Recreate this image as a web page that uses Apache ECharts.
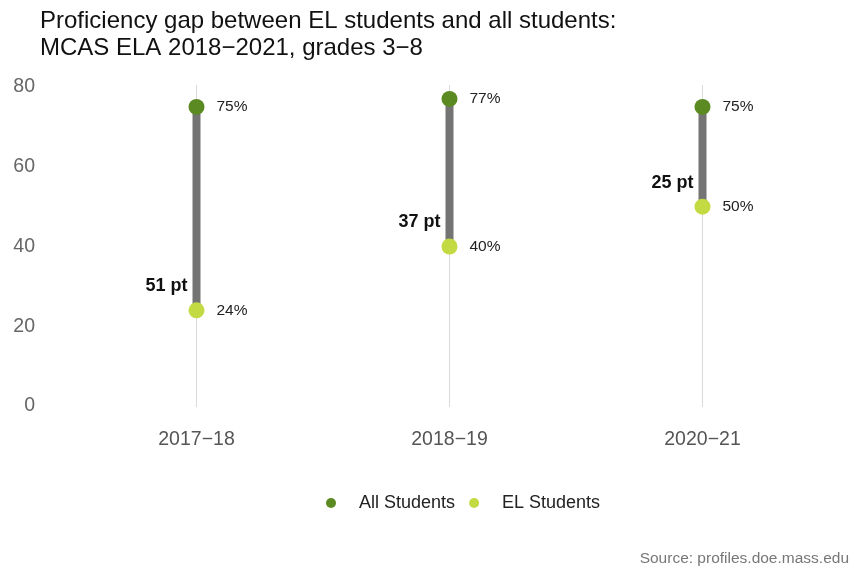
<!DOCTYPE html>
<html>
<head>
<meta charset="utf-8">
<script src="https://cdn.jsdelivr.net/npm/echarts@6/dist/echarts.min.js"></script>
<style>
  html, body { margin: 0; padding: 0; background: #fff; }
  #chart { width: 854px; height: 567px; }
</style>
</head>
<body>
<div id="chart"></div>
<script>
// School years and proficiency rates (percent meeting/exceeding expectations)
const categories = ['2017−18', '2018−19', '2020−21'];
const allStudents = [75, 77, 75];
const elStudents = [24, 40, 50];
const yTicks = [0, 20, 40, 60, 80];

const DARK_GREEN = '#5b8a22';
const LIGHT_GREEN = '#c3da43';
const FONT = '"Liberation Sans", Arial, sans-serif';

const chart = echarts.init(document.getElementById('chart'));

const gapData = categories.map((c, i) => [i, allStudents[i], elStudents[i]]);
const guideData = categories.map((c, i) => [i, yTicks[0], yTicks[yTicks.length - 1]]);

chart.setOption({
  animation: false,
  textStyle: { fontFamily: FONT },
  title: [
    {
      text: 'Proficiency gap between EL students and all students:\nMCAS ELA 2018−2021, grades 3−8',
      left: 35, top: 3,
      textStyle: { fontSize: 24, fontWeight: 'normal', color: '#111', lineHeight: 27, fontFamily: FONT }
    },
    {
      text: 'Source: profiles.doe.mass.edu',
      right: 0, top: 546,
      textStyle: { fontSize: 15.5, fontWeight: 'normal', color: '#777', fontFamily: FONT }
    }
  ],
  legend: {
    data: ['All Students', 'EL Students'],
    top: 489,
    left: 321,
    icon: 'circle',
    itemWidth: 10, itemHeight: 10,
    itemGap: 14,
    textStyle: { fontSize: 18, color: '#222', padding: [0, 0, 0, 18], fontFamily: FONT }
  },
  grid: { left: 70, right: 25, top: 87, bottom: 161 },
  xAxis: {
    type: 'category',
    data: categories,
    boundaryGap: true,
    axisLine: { show: false },
    axisTick: { show: false },
    splitLine: { show: false },
    axisLabel: { fontSize: 19.5, color: '#555', margin: 24, fontFamily: FONT }
  },
  yAxis: {
    type: 'value',
    min: 0, max: 80, interval: 20,
    axisLine: { show: false },
    axisTick: { show: false },
    splitLine: { show: false },
    axisLabel: { fontSize: 19.5, color: '#666', margin: 35, align: 'right', fontFamily: FONT }
  },
  series: [
    {
      // thin vertical guide at each school year
      type: 'custom',
      silent: true,
      z: 1,
      data: guideData,
      renderItem: function (params, api) {
        const p0 = api.coord([api.value(0), api.value(1)]);
        const p1 = api.coord([api.value(0), api.value(2)]);
        return {
          type: 'line',
          shape: { x1: p0[0], y1: p0[1] + 1, x2: p1[0], y2: p1[1] - 2 },
          style: { stroke: '#d9d9d9', lineWidth: 1 }
        };
      }
    },
    {
      // gap bar between the two groups, with the point difference
      type: 'custom',
      silent: true,
      z: 2,
      data: gapData,
      renderItem: function (params, api) {
        const hi = api.coord([api.value(0), api.value(1)]);
        const lo = api.coord([api.value(0), api.value(2)]);
        const gap = api.value(1) - api.value(2);
        return {
          type: 'group',
          children: [
            {
              type: 'line',
              shape: { x1: hi[0], y1: hi[1], x2: lo[0], y2: lo[1] },
              style: { stroke: '#747474', lineWidth: 8 }
            },
            {
              type: 'text',
              x: lo[0] - 9,
              y: lo[1] - 24,
              style: {
                text: gap + ' pt',
                align: 'right',
                verticalAlign: 'middle',
                fontSize: 18,
                fontWeight: 'bold',
                fontFamily: FONT,
                fill: '#111'
              }
            }
          ]
        };
      }
    },
    {
      name: 'All Students',
      type: 'scatter',
      z: 3,
      symbol: 'circle',
      symbolSize: 16,
      itemStyle: { color: DARK_GREEN, opacity: 1 },
      data: allStudents,
      label: {
        show: true, position: 'right', distance: 12,
        formatter: p => p.value + '%',
        fontSize: 15.5, color: '#222', fontFamily: FONT
      }
    },
    {
      name: 'EL Students',
      type: 'scatter',
      z: 3,
      symbol: 'circle',
      symbolSize: 16,
      itemStyle: { color: LIGHT_GREEN, opacity: 1 },
      data: elStudents,
      label: {
        show: true, position: 'right', distance: 12,
        formatter: p => p.value + '%',
        fontSize: 15.5, color: '#222', fontFamily: FONT
      }
    }
  ]
});
</script>
</body>
</html>
